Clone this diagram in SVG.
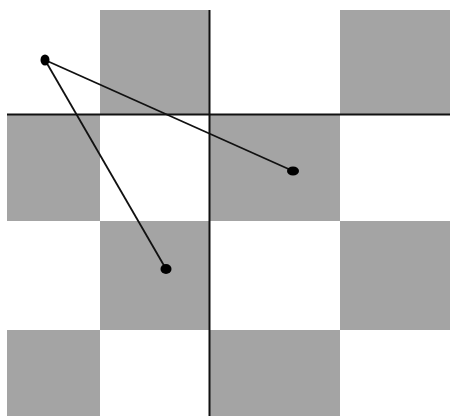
<svg xmlns="http://www.w3.org/2000/svg" width="450" height="416" viewBox="0 0 450 416">
<style>
.sq{fill:#a4a4a4}
.ax{stroke:#111;stroke-width:2;fill:none}
.ln{stroke:#111;stroke-width:1.8;fill:none}
.dot{fill:#000}
</style>
<rect width="450" height="416" fill="#fff"/>
<g id="board">
<rect class="sq" x="100" y="10" width="109" height="104"/>
<rect class="sq" x="340" y="10" width="110" height="104"/>
<rect class="sq" x="7" y="114" width="93" height="107"/>
<rect class="sq" x="209" y="114" width="131" height="107"/>
<rect class="sq" x="100" y="221" width="109" height="109"/>
<rect class="sq" x="340" y="221" width="110" height="109"/>
<rect class="sq" x="7" y="330" width="93" height="86"/>
<rect class="sq" x="209" y="330" width="131" height="86"/>
</g>
<g id="axes">
<line class="ax" x1="7" y1="114.5" x2="450" y2="114.5"/>
<line class="ax" x1="209.5" y1="10" x2="209.5" y2="416"/>
</g>
<g id="connectors">
<line class="ln" x1="45" y1="60" x2="293" y2="171"/>
<line class="ln" x1="45" y1="60" x2="166" y2="269"/>
</g>
<g id="p1"><ellipse class="dot" cx="45" cy="60" rx="4.5" ry="5.5"/></g>
<g id="p2"><ellipse class="dot" cx="293" cy="171" rx="6" ry="4.5"/></g>
<g id="p3"><ellipse class="dot" cx="166" cy="269" rx="5.5" ry="5"/></g>
</svg>
